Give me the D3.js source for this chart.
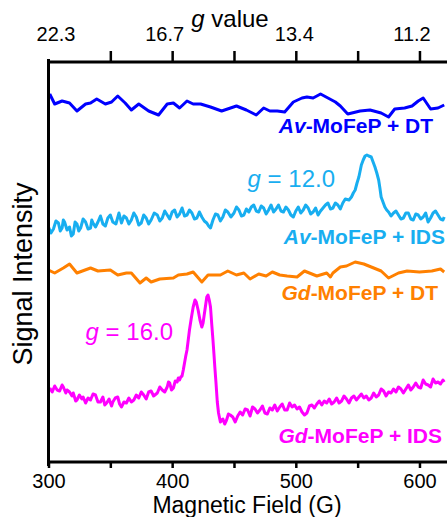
<!DOCTYPE html>
<html>
<head>
  <meta charset="utf-8">
  <script src="https://d3js.org/d3.v7.min.js"></script>
  <style>
    body { margin: 0; background: #fff; }
    text { font-family: "Liberation Sans", Arial, Helvetica, sans-serif; }
  </style>
</head>
<body>
  <script type="text/javascript">
    // Data (field in G, signal in arbitrary units, traces offset)
    var blueField = [301,305,311,317,323,330,334,339,346,351,356,362,367,373,381,389,396,401,406,412,
                     417,423,431,440,452,460,468,474,479,485,491,498,505,509,514,520,526,532,536,542,
                     552,560,569,575,580,588,594,599,603,609,615,620];
    var blueSignal = [368,358,361,359,351,358,359,363,358,360,366,359,352,358,351,347,358,359,354,361,
                      358,358,355,351,356,352,347,354,351,351,350,360,364,365,364,368,364,360,356,348,
                      351,352,349,345,353,354,356,361,364,353,354,357];

    // Av-MoFeP + IDS, [field, signal]
    var cyanPoints = [[300,235],[302,229],[304,233],[306,241],[308,239],[309.5,231],[311,234],[312,242],
      [313,240],[315,232],[317,235],[318.5,226],[320,228],[321.5,240],[323,238],[324.5,231],[326,234],
      [328,243],[330,240],[332,233],[334,234],[335,242],[336,239],[338,235],[340,240],[342,246],[344,238],
      [346,236],[348,244],[350,247],[352,240],[354.5,238],[357,249],[358,244],[359,239],[361,246],[363,244],
      [365,238],[367,242],[369,249],[371,245],[373,237],[375,239],[377,247],[379,244],[381,238],[383,242],
      [385.5,249],[388,247],[390,241],[392,244],[394,251],[396,247],[398,243],[400,250],[402,252],[404,245],
      [406,248],[408,254],[410,246],[412,247],[414,252],[416,249],[418,243],[420,244],[422,250],[424,245],
      [426,241],[428,239],[429.5,236],[431,234],[432,238],[433,242],[435,248],[437,247],[439,241],[441,245],
      [443,252],[445,250],[447.5,245],[450,249],[452,255],[454,252],[456,246],[458,247],[460,253],[462,250],
      [464,255],[466,257],[468,251],[470,250],[472,256],[474,254],[476,248],[478,252],[480,257],[482,250],
      [484,253],[486,257],[488,251],[490,250],[492,255],[494,252],[496,247],[498,245],[500,251],[502,255],
      [504,249],[506,252],[508,257],[510,254],[512,248],[514,250],[516,254],[518,247],[520,251],[522,254],
      [524,257],[526,259],[528,253],[530,254],[532,259],[534,257],[536,253],[538,259],[540,263],[543,262],
      [545,265],[546.5,269],[548,272],[549.5,279],[551,285],[552,291],[553,297],[554.5,302],[556,306],
      [557.5,307],[559,306],[561,305],[562.5,300],[564,295],[565.5,289],[567,282],[568,274],[569,265],
      [570.5,260],[572,255],[573.5,252],[575,250],[577,246],[579,249],[581,251],[583,247],[585,243],[587,244],
      [589,249],[591,249],[593,243],[595,242],[597,248],[599,247],[601,243],[603,245],[605,249],[607,240],
      [609,244],[611,249],[613,251],[615,247],[617,243],[619,242],[620,245]];

    var orangeField = [300,305,312,317,323,334,340,350,356,363,367,374,379,383,390,401,405,412,417,424,
                       429,439,445,452,458,463,470,476,481,487,493,501,507,517,525,528,530,536,541,548,
                       555,563,569,575,583,590,600,610,617,620];
    var orangeSignal = [192,189,194,198,189,194,191,192,187,189,189,179,184,180,183,184,187,188,190,180,
                        187,187,191,187,189,183,188,186,190,187,186,185,191,186,189,185,189,195,196,200,
                        198,194,191,184,189,191,190,191,193,190];

    // Gd-MoFeP + IDS, [field, signal]
    var magentaPoints = [[301,74],[303,70],[305,76],[307,72],[309,71],[311,77],[312,75],[314,69],[315,72],
      [317,70],[319,66],[320,69],[322,61],[323,62],[325,67],[327,63],[328,65],[330,59],[332,64],[334,62],
      [336,68],[338,67],[340,60],[342,60],[344,65],[345.5,57],[347,59],[349,63],[351,56],[352,60],[354,64],
      [356,65],[357.5,58],[359,55],[361,60],[363,59],[365,64],[367,60],[369,62],[371,67],[373,64],[375,70],
      [377,67],[379,63],[381,70],[383,71],[385,66],[387,68],[388,69],[390,75],[392,72],[394,70],[396,75],
      [397,80],[398,79],[399.5,72],[401,74],[402.5,81],[404,80],[405,84],[406,82],[407,85],[408,86],[409,92],
      [410,99],[411,106],[412,112],[413,122],[414,132],[415.5,144],[417,155],[418.5,162],[419.5,160],
      [421,152],[422.5,142],[424,135],[425,139],[426.5,152],[428,165],[429,167],[430,162],[431,155],
      [432,138],[433,122],[433.8,108],[434.5,95],[435.4,80],[436.5,60],[437.5,49],[439,40],[441,43],
      [442.5,38],[444,42],[445.5,48],[447,47],[449,45],[451,40],[453,46],[455,50],[457,47],[459,53],
      [461,52],[463,46],[465,55],[467,53],[469,49],[471,52],[473,56],[475,49],[477,48],[479,54],[481,52],
      [483,57],[485,51],[487,55],[489,58],[491,52],[493,52],[495,59],[497,55],[499,57],[501,53],[503,55],
      [505,50],[507,47],[509,49],[511,56],[513,57],[515,54],[517,58],[519,61],[521,57],[523,61],[525,59],
      [527,63],[529,58],[531,60],[533,64],[535,59],[537,61],[539,66],[541,63],[543,59],[545,64],[547,66],
      [549,62],[551,65],[553,68],[555,64],[557,66],[559,62],[561,64],[563,69],[565,65],[567,67],[569,73],
      [571,71],[573,66],[575,70],[577,69],[579,73],[581,70],[583,75],[585,73],[587,69],[589,73],[591,77],
      [593,72],[595,75],[597,79],[599,75],[601,74],[603,82],[605,78],[607,77],[609,75],[611,83],[613,79],
      [615,80],[617,78],[619,82],[620,80]];

    var seriesColors = ["#0000ff", "#18aef0", "#ff8000", "#ff00ff"];

    // Axis ticks: bottom field ticks, top g-value labels
    var fieldTicks = [300, 350, 400, 450, 500, 550, 600];
    var fieldLabels = [300, 400, 500, 600];
    var gTickFields = [300, 400, 500, 600];
    var gTickLabels = ["22.3", "16.7", "13.4", "11.2"];

    var width = 447, height = 517;
    var plotLeft = 48.5, plotRight = 444.2, plotTop = 62, plotBottom = 462;

    var svg = d3.select("body").append("svg")
      .attr("width", width)
      .attr("height", height);

    var x = d3.scaleLinear().domain([300, 620]).range([plotLeft, plotRight]);
    var y = d3.scaleLinear().domain([0, 400]).range([plotBottom, plotTop]);

    // Clip so traces stay inside the frame
    svg.append("clipPath").attr("id", "plot")
      .append("rect")
      .attr("x", plotLeft).attr("y", plotTop)
      .attr("width", plotRight - plotLeft + 3).attr("height", plotBottom - plotTop);

    // Draw traces
    var traces = [
      d3.zip(blueField, blueSignal),
      cyanPoints,
      d3.zip(orangeField, orangeSignal),
      magentaPoints
    ];
    var line = d3.line()
      .x(function(d) { return x(d[0]); })
      .y(function(d) { return y(d[1]); });

    svg.append("g").attr("clip-path", "url(#plot)")
      .selectAll("path")
      .data(traces)
      .enter()
      .append("path")
      .attr("d", line)
      .attr("fill", "none")
      .attr("stroke", function(d, i) { return seriesColors[i]; })
      .attr("stroke-width", 3)
      .attr("stroke-linejoin", "round");

    // Bottom axis
    var xAxis = d3.axisBottom(x)
      .tickValues(fieldTicks)
      .tickSize(6)
      .tickSizeOuter(0)
      .tickPadding(6)
      .tickFormat(function(d) { return fieldLabels.indexOf(d) >= 0 ? d : ""; });
    var gx = svg.append("g")
      .attr("transform", "translate(0," + plotBottom + ")")
      .call(xAxis);

    // Top axis with g values
    var gAxis = d3.axisTop(x)
      .tickValues(fieldTicks)
      .tickSize(11)
      .tickSizeOuter(0)
      .tickPadding(10)
      .tickFormat(function(d) {
        var i = gTickFields.indexOf(d);
        return i >= 0 ? gTickLabels[i] : "";
      });
    var gt = svg.append("g")
      .attr("transform", "translate(0," + plotTop + ")")
      .call(gAxis);
    // no tick at the corner on top
    gt.selectAll(".tick").filter(function(d) { return d === 300; }).select("line").remove();
    // small nudges of the g labels as in the figure
    var gNudge = { 300: 7, 400: -8, 500: -2, 600: -8 };
    gt.selectAll(".tick text").attr("dx", function(d) { return gNudge[d] || 0; });

    [gx, gt].forEach(function(g) {
      g.select(".domain")
        .attr("stroke", "#000")
        .attr("stroke-width", 3)
        .attr("d", "M" + (plotLeft - 1.5) + ",0H" + (plotRight + 3));
      g.selectAll(".tick line").attr("stroke", "#000").attr("stroke-width", 2.5);
      g.selectAll(".tick text")
        .attr("fill", "#000")
        .style("font-size", "20px")
        .style("font-family", "'Liberation Sans', Arial, sans-serif");
    });
    // drop the empty minor labels
    gx.selectAll(".tick text").filter(function() { return this.textContent === ""; }).remove();
    gt.selectAll(".tick text").filter(function() { return this.textContent === ""; }).remove();

    // Left spine (no ticks)
    svg.append("line")
      .attr("x1", plotLeft).attr("x2", plotLeft)
      .attr("y1", plotTop - 3).attr("y2", plotBottom + 4)
      .attr("stroke", "#000")
      .attr("stroke-width", 3);

    // Axis titles
    svg.append("text")
      .attr("x", 247)
      .attr("y", 513)
      .attr("text-anchor", "middle")
      .style("font-size", "23px")
      .text("Magnetic Field (G)");

    var gTitle = svg.append("text")
      .attr("x", 230)
      .attr("y", 27)
      .attr("text-anchor", "middle")
      .style("font-size", "24px");
    gTitle.append("tspan").style("font-style", "italic").text("g");
    gTitle.append("tspan").text(" value");

    svg.append("text")
      .attr("transform", "translate(32,274) rotate(-90)")
      .attr("text-anchor", "middle")
      .style("font-size", "27px")
      .text("Signal Intensity");

    // Series labels
    var labelInfo = [
      { it: "Av", rest: "-MoFeP + DT", x: 433, y: 133 },
      { it: "Av", rest: "-MoFeP + IDS", x: 445, y: 244 },
      { it: "Gd", rest: "-MoFeP + DT", x: 438, y: 300 },
      { it: "Gd", rest: "-MoFeP + IDS", x: 442, y: 443 }
    ];
    labelInfo.forEach(function(l, i) {
      var t = svg.append("text")
        .attr("x", l.x)
        .attr("y", l.y)
        .attr("text-anchor", "end")
        .attr("fill", seriesColors[i])
        .style("font-size", "21px")
        .style("font-weight", "bold");
      t.append("tspan").style("font-style", "italic").text(l.it);
      t.append("tspan").text(l.rest);
    });

    // g value annotations for the peaks
    var notes = [
      { text: " = 12.0", x: 335, y: 187, color: seriesColors[1] },
      { text: " = 16.0", x: 173, y: 340, color: seriesColors[3] }
    ];
    notes.forEach(function(n) {
      var t = svg.append("text")
        .attr("x", n.x)
        .attr("y", n.y)
        .attr("text-anchor", "end")
        .attr("fill", n.color)
        .style("font-size", "24px");
      t.append("tspan").style("font-style", "italic").text("g");
      t.append("tspan").text(n.text);
    });
  </script>
</body>
</html>
